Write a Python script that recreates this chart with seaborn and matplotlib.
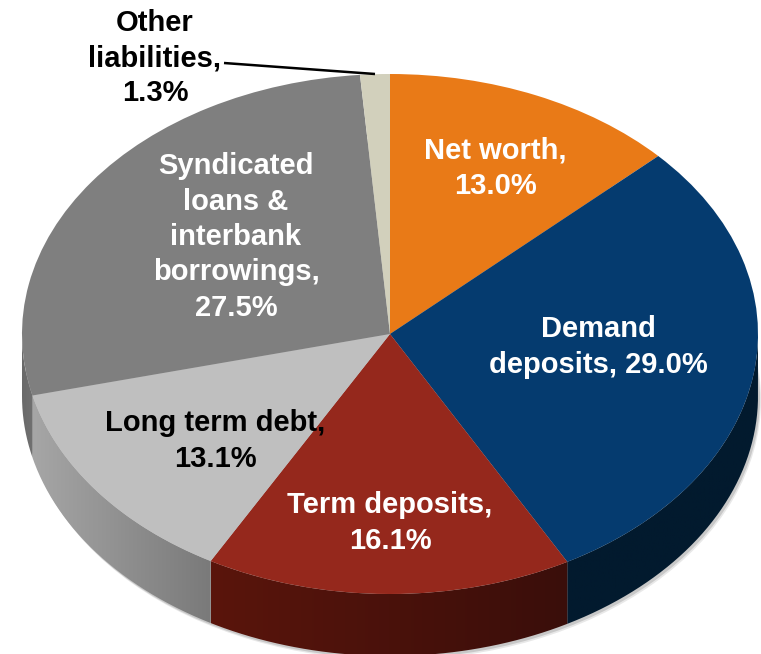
import numpy as np
import matplotlib
matplotlib.use("Agg")
import matplotlib.pyplot as plt
from matplotlib.path import Path
from matplotlib.colors import LinearSegmentedColormap
import seaborn as sns

categories = ["Net worth", "Demand deposits", "Term deposits", "Long term debt",
              "Syndicated loans & interbank borrowings", "Other liabilities"]
values = [13.0, 29.0, 16.1, 13.1, 27.5, 1.3]
top_colors = ["#E97A17", "#053B6F", "#95281C", "#BFBFBF", "#7F7F7F", "#D2D0BC"]
side_left = ["#A85810", "#021A2E", "#5A150C", "#A6A6A6", "#6A6A6A", "#97968A"]
side_right = ["#A85810", "#021A2E", "#3A0E0A", "#7A7A7A", "#707070", "#97968A"]
label_texts = ["Net worth,\n13.0%", "Demand\ndeposits, 29.0%", "Term deposits,\n16.1%",
               "Long term debt,\n13.1%", "Syndicated\nloans &\ninterbank\nborrowings,\n27.5%",
               "Other\nliabilities,\n1.3%"]
label_colors = ["white", "white", "white", "black", "white", "black"]
label_px = [(495, 168), (598, 347), (390, 523), (215, 441), (236, 237), (155, 58)]

W, H = 761, 654
CX, CY, RX, RY, DEPTH = 390, 334, 368, 260, 62
k = RX / RY

sns.set_theme(style="white")
plt.rcParams["font.family"] = ["Liberation Sans", "DejaVu Sans"]
palette = sns.color_palette(top_colors)


def ypx(py):
    return -(py - CY) * k


fig = plt.figure(figsize=(W / 100, H / 100), dpi=100, facecolor="white")
ax = fig.add_axes([0, 0, 1, 1])

# soft shadow beneath the disc
for dx, dy, a in [(3, 4, 0.18), (2, 2.5, 0.3)]:
    sh, _ = ax.pie([1], colors=["#808080"], radius=RX, center=(CX + dx, ypx(CY + DEPTH + dy)),
                   wedgeprops=dict(linewidth=0, alpha=a))
    sh[0].set_zorder(0.5)

wedges, _ = ax.pie(values, colors=palette, startangle=90, counterclock=False,
                   radius=RX, center=(CX, 0), wedgeprops=dict(linewidth=0))
for w in wedges:
    w.set_zorder(3)

ax.set_aspect("auto")
ax.set_xlim(0, W)
ax.set_ylim(ypx(H), ypx(0))
ax.axis("off")

# side wall of every wedge that faces the viewer
for w, c0, c1 in zip(wedges, side_left, side_right):
    t0, t1 = max(w.theta1, -180), min(w.theta2, 0)
    if t1 <= t0:
        continue
    th = np.radians(np.linspace(t0, t1, 120))
    xs = CX + RX * np.cos(th)
    ys = RX * np.sin(th)
    verts = np.vstack([np.column_stack([xs, ys]),
                       np.column_stack([xs[::-1], ys[::-1] - DEPTH * k]),
                       [[xs[0], ys[0]]]])
    path = Path(verts)
    cmap = LinearSegmentedColormap.from_list("side", [c0, c1])
    grad = np.linspace(0, 1, 128)[None, :]
    im = ax.imshow(grad, cmap=cmap, aspect="auto", zorder=2,
                   extent=(xs.min(), xs.max(), verts[:, 1].min(), verts[:, 1].max()))
    im.set_clip_path(path, ax.transData)
ax.set_xlim(0, W)
ax.set_ylim(ypx(H), ypx(0))
ax.set_aspect("auto")

for txt, col, (px, py) in zip(label_texts, label_colors, label_px):
    ax.text(px, ypx(py), txt, color=col, ha="center", va="center", fontsize=21,
            fontweight="bold", linespacing=1.33, zorder=5)

ax.plot([224, 375], [ypx(63), ypx(74)], color="black", lw=1.8, zorder=4,
        solid_capstyle="butt")

fig.savefig("out.png", dpi=100, facecolor="white")
